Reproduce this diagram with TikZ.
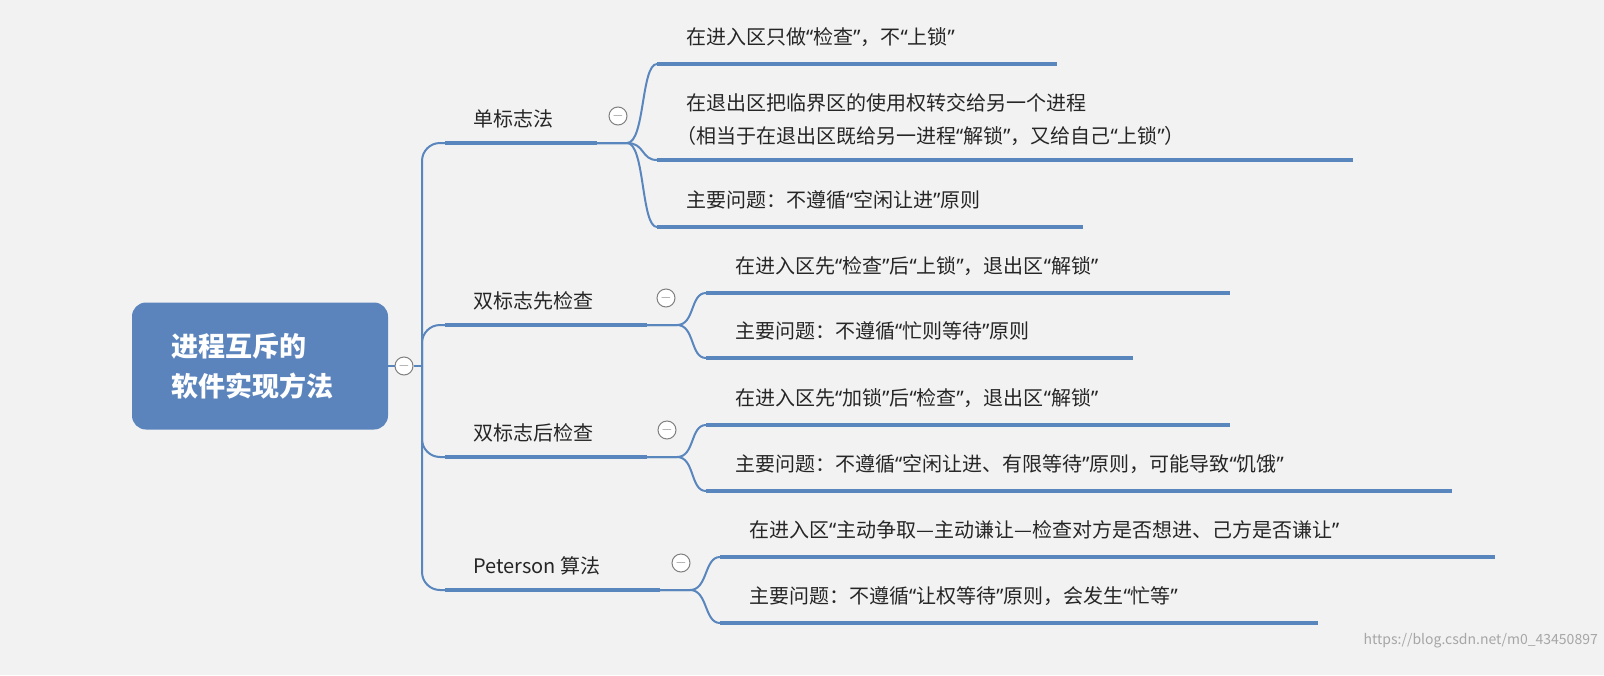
\documentclass[tikz,border=0pt]{standalone}
\usepackage{fontspec}
\setmainfont{Noto Sans CJK SC}
\newfontfamily\qf{Noto Sans}
\newcommand\oq{{\qf“}}
\newcommand\cq{{\qf”}}
\usetikzlibrary{calc}
\begin{document}
\begin{tikzpicture}[x=1pt,y=-1pt,
  ul/.style={draw=lineblue,line width=4.5pt},
  cn/.style={draw=lineblue,line width=2pt},
  lbl/.style={anchor=base west,inner sep=0pt,font=\fontsize{20}{24}\selectfont,text=black!85},
  coll/.style={circle,draw=gray,fill=white,line width=1pt,minimum size=18pt,inner sep=0pt,font=\fontsize{14}{14}\selectfont,text=gray}]
\definecolor{lineblue}{HTML}{5A86BE}
\definecolor{rootblue}{HTML}{5B84BD}
\fill[black!5] (0,0) rectangle (1604,675);
\useasboundingbox (0,0) rectangle (1604,675);
% root
\node[fill=rootblue,rounded corners=14pt,minimum width=256pt,minimum height=127pt,inner sep=0pt] (root) at (260,366) {};
\node[anchor=west,align=left,text=white,font=\bfseries\fontsize{27}{40}\selectfont] (roott) at (168,366) {进程互斥的\\软件实现方法};
\node[coll] (rc) at (404,366) {$-$};
\coordinate (tr) at (422,366);
\draw[cn] (root.east) -- (rc.west);
\draw[cn] (rc.east) -- (tr);
% level 1
\foreach \n/\y/\xe/\t in {a/143/597/单标志法,b/325/647/双标志先检查,c/457/647/双标志后检查,d/590/660/Peterson 算法}{
  \coordinate (\n s) at (445,\y); \coordinate (\n e) at (\xe,\y);
  \draw[ul] (\n s) -- (\n e);
  \node[lbl] (\n t) at (473,\y-17) {\t};
  \draw[cn,rounded corners=18pt] (tr) |- (\n s);
}
\node[coll] (ac) at (618,116) {$-$};
\node[coll] (bc) at (666,298) {$-$};
\node[coll] (cc) at (667,430) {$-$};
\node[coll] (dc) at (681,563) {$-$};
% leaves
\foreach \p/\n/\xs/\y/\xe/\t in {
 a/a1/657/64/1057/{在进入区只做\oq 检查\cq，不\oq 上锁\cq},
 a/a3/657/227/1083/{主要问题：不遵循\oq 空闲让进\cq 原则},
 b/b1/706/293/1230/{在进入区先\oq 检查\cq 后\oq 上锁\cq，退出区\oq 解锁\cq},
 b/b2/706/358/1133/{主要问题：不遵循\oq 忙则等待\cq 原则},
 c/c1/706/425/1230/{在进入区先\oq 加锁\cq 后\oq 检查\cq，退出区\oq 解锁\cq},
 c/c2/706/491/1452/{主要问题：不遵循\oq 空闲让进、有限等待\cq 原则，可能导致\oq 饥饿\cq},
 d/d1/720/557/1495/{在进入区\oq 主动争取—主动谦让—检查对方是否想进、己方是否谦让\cq},
 d/d2/720/623/1318/{主要问题：不遵循\oq 让权等待\cq 原则，会发生\oq 忙等\cq}}{
  \coordinate (\n s) at (\xs,\y); \coordinate (\n e) at (\xe,\y);
  \draw[ul] (\n s) -- (\n e);
  \node[lbl] (\n t) at (\xs+29,\y-20) {\t};
  \draw[cn] (\p e) -- ++(30,0) .. controls ++(18,0) and ($(\n s)+(-16,0)$) .. (\n s);
}
\coordinate (a2s) at (657,160); \coordinate (a2e) at (1353,160);
\draw[ul] (a2s) -- (a2e);
\node[lbl] (a2t) at (686,110) {在退出区把临界区的使用权转交给另一个进程};
\node[lbl] (a2u) at (676,143) {（相当于在退出区既给另一进程\oq 解锁\cq，又给自己\oq 上锁\cq）};
\draw[cn] (ae) -- ++(30,0) .. controls ++(18,0) and ($(a2s)+(-16,0)$) .. (a2s);
\node[anchor=south east,inner sep=2pt,text=gray!70,font=\fontsize{14}{16}\selectfont] (wm) at (1600,650) {https://blog.csdn.net/m0\_43450897};
\end{tikzpicture}
\end{document}
